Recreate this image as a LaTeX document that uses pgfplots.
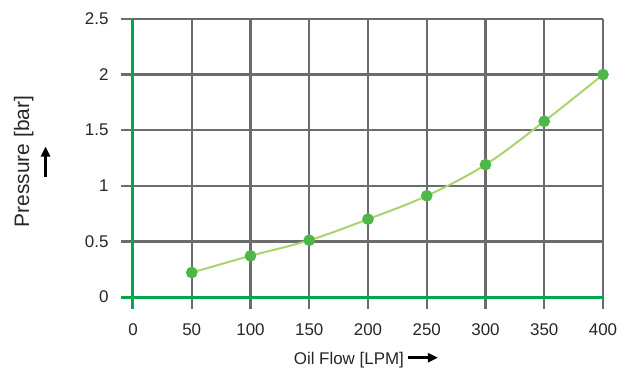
\documentclass[border=0pt]{standalone}
\usepackage{fontspec}
\setmainfont{Liberation Sans}
\usepackage{pgfplots}
\pgfplotsset{compat=1.18}
\usetikzlibrary{arrows.meta}
\definecolor{gridgray}{RGB}{108,108,108}
\definecolor{axgreen}{RGB}{0,166,81}
\definecolor{ptgreen}{RGB}{77,184,72}
\definecolor{lngreen}{RGB}{170,212,110}
\newsavebox\rarrow
\sbox\rarrow{\tikz\draw[line width=2.4bp,-{Triangle[length=10bp,width=9bp]}](0,0)--(30bp,0);}
\pgfplotstableread{
x y
50 0.22
100 0.37
150 0.51
200 0.70
250 0.91
300 1.19
350 1.58
400 2.00
}\flowdata
\begin{document}
\begin{tikzpicture}
\begin{axis}[
  at={(0,0)}, anchor=origin,
  scale only axis,
  width=470bp, height=278bp,
  xmin=0, xmax=400, ymin=0, ymax=2.5,
  xtick={0,50,...,400},
  ytick={0,0.5,...,2.5},
  grid=major,
  major grid style={gridgray, line width=2.3bp},
  axis line style={draw=none},
  tick align=outside,
  major tick length=12bp,
  tick style={gridgray, line width=2.3bp},
  xtick pos=left, ytick pos=left,
  clip=false,
  /pgf/number format/assume math mode=true,
  ticklabel style={font=\fontsize{17}{20}\selectfont, text=black!85},
  xticklabel style={yshift=-11bp},
  yticklabel style={xshift=-9bp},
  xlabel={Oil Flow [LPM]\,\raisebox{0.25ex}{\usebox\rarrow}},
  ylabel={Pressure [bar]\\[-3bp]\usebox\rarrow},
  xlabel style={font=\fontsize{17}{20}\selectfont, text=black!85, at={([xshift=-1.5bp,yshift=-63bp]rel axis cs:0.5,0)}, anchor=center},
  ylabel style={font=\fontsize{21}{24}\selectfont, text=black!85, align=center, at={([xshift=-101bp,yshift=-3.5bp]rel axis cs:0,0.5)}, anchor=center},
]
\addplot[lngreen, line width=2bp, smooth, tension=0.6, mark=*, mark size=4.8bp, mark options={ptgreen, fill=ptgreen}] table[x=x,y=y] {\flowdata};
\draw[axgreen, line width=3bp] ([yshift=-12bp]axis cs:0,0) -- (axis cs:0,2.5);
\draw[axgreen, line width=3bp] ([xshift=-12bp]axis cs:0,0) -- (axis cs:400,0);
\end{axis}
\pgfresetboundingbox
\path[use as bounding box] (-133bp,-78bp) rectangle (496bp,297bp);
\end{tikzpicture}
\end{document}
